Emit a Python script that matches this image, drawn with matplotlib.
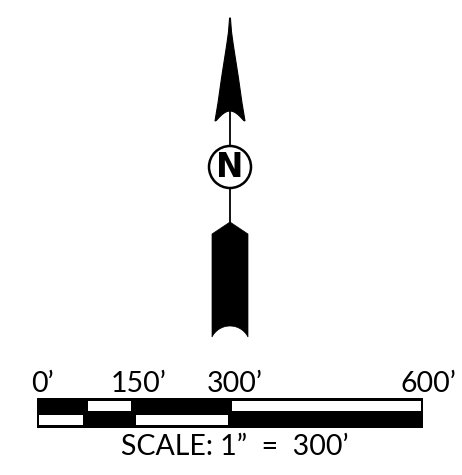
import numpy as np
import matplotlib
matplotlib.use("Agg")
import matplotlib.pyplot as plt
from matplotlib.patches import Polygon, Circle, Rectangle

# Scale bar values (feet)
segment_edges = [0, 75, 150, 300, 600]
top_row_black = [True, False, True, False]
tick_values = [0, 150, 300, 600]
tick_labels = ["0\u2019", "150\u2019", "300\u2019", "600\u2019"]
scale_caption = "SCALE: 1\u201d  =  300\u2019"
north_label = "N"

W, H = 462, 475
fig = plt.figure(figsize=(W / 100, H / 100), dpi=100, facecolor="white")

# North arrow, drawn in pixel units
ax = fig.add_axes([0, 0, 1, 1])
ax.set_xlim(0, W)
ax.set_ylim(H, 0)
ax.set_axis_off()

cx = 230
# shaft
ax.plot([cx, cx], [105, 225], color="black", linewidth=1.3, solid_capstyle="butt", zorder=1)

# arrow head with concave base
left = [(229.6, 18), (228.5, 32), (226.7, 45), (221.7, 77), (218, 103), (215, 121)]
t = np.linspace(0, 1, 12)
notch = [(215 + 15 * s, 122 - 11 * np.sin(s * np.pi / 2)) for s in t[1:]]
right = [(2 * cx - x, y) for x, y in reversed(left)]
notch_r = [(2 * cx - x, y) for x, y in reversed(notch[:-1])]
head = left + notch + notch_r + right
ax.add_patch(Polygon(head, closed=True, facecolor="black", edgecolor="black", linewidth=0.8, zorder=2))

# circle with N
ax.add_patch(Circle((cx, 167), 21, facecolor="white", edgecolor="black", linewidth=1.8, zorder=3))
ax.text(cx, 167.5, north_label, ha="center", va="center", fontsize=23.5,
        fontweight="bold", family="DejaVu Sans", zorder=4)

# tail with arc cut at the bottom
hw, sag = 18, 11
r = (hw ** 2 + sag ** 2) / (2 * sag)
yc = 326 + r
ang = np.linspace(np.arcsin(-hw / r), np.arcsin(hw / r), 30)
arc = [(cx + r * np.sin(a), yc - r * np.cos(a)) for a in ang]
tail = [(cx, 222), (cx - hw, 234), (cx - hw, 337)] + arc + [(cx + hw, 337), (cx + hw, 234)]
ax.add_patch(Polygon(tail, closed=True, facecolor="black", edgecolor="black", linewidth=0.5, zorder=2))

# Scale bar axes: x in feet, y in pixels
x0, x1 = 37, 423
y_top, y_bot = 362, 462
sax = fig.add_axes([x0 / W, (H - y_bot) / H, (x1 - x0) / W, (y_bot - y_top) / H])
sax.set_xlim(segment_edges[0], segment_edges[-1])
sax.set_ylim(y_bot, y_top)
sax.set_axis_off()

px = (segment_edges[-1] - segment_edges[0]) / (x1 - x0)  # feet per pixel
bar_top, bar_mid, bar_bot = 397.5, 412.7, 428
sax.add_patch(Rectangle((0, bar_top), 600, bar_bot - bar_top, facecolor="black",
                        edgecolor="none", clip_on=False))
for i, is_black in enumerate(top_row_black):
    a, b = segment_edges[i], segment_edges[i + 1]
    ins = 2.3 * px
    if not is_black:
        sax.add_patch(Rectangle((a + ins, bar_top + 3.5), b - a - 2 * ins, bar_mid - bar_top - 5.5,
                                facecolor="white", edgecolor="none", clip_on=False))
    else:
        sax.add_patch(Rectangle((a + ins, bar_mid + 2.3), b - a - 2 * ins, bar_bot - bar_mid - 5.0,
                                facecolor="white", edgecolor="none", clip_on=False))

font = dict(family="Lato", fontweight="normal", fontsize=20.5)
for v, lab in zip(tick_values, tick_labels):
    sax.text(v + 5 * px, 392, lab, ha="center", va="baseline", clip_on=False, **font)

sax.text(300 + 5 * px, 455, scale_caption, ha="center", va="baseline", clip_on=False, **font)

fig.savefig("out.png", dpi=100, facecolor="white")
